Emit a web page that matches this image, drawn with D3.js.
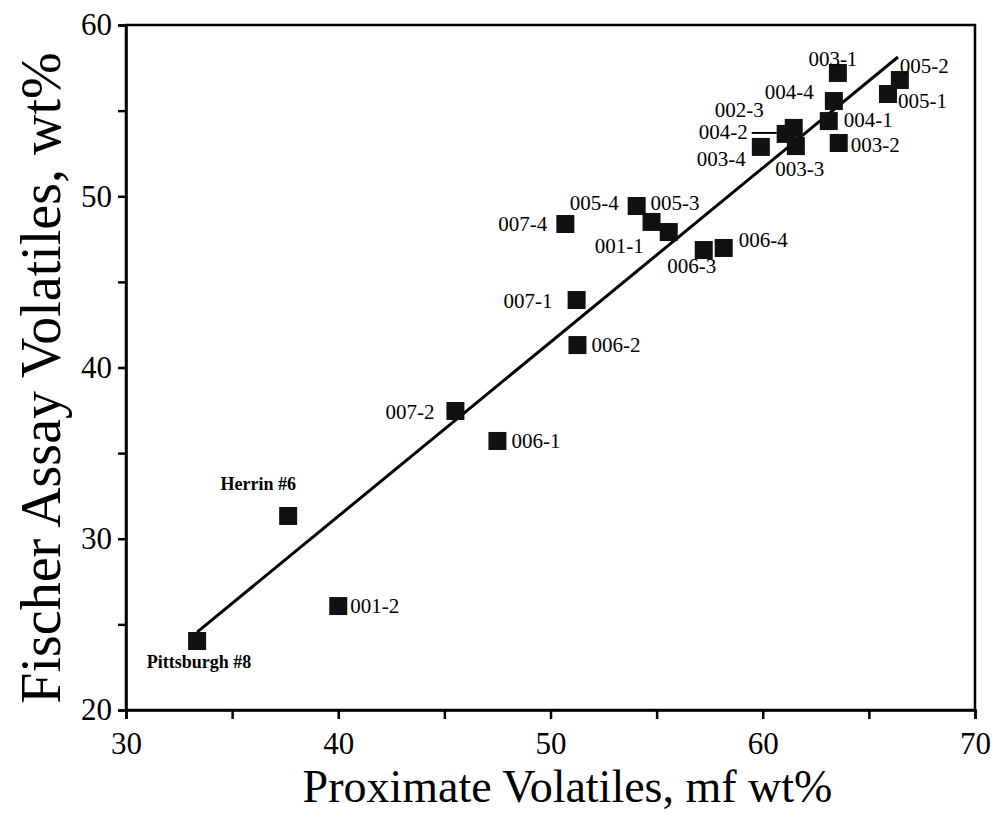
<!DOCTYPE html>
<html>
<head>
<meta charset="utf-8">
<script src="https://cdn.jsdelivr.net/npm/d3@7"></script>
<style>
  body { margin: 0; background: #fff; }
  svg { display: block; }
  text { font-family: "Liberation Serif", "Times New Roman", serif; fill: #000; }
</style>
</head>
<body>
<script>
// data
var names = ["Pittsburgh #8", "Herrin #6", "001-2", "007-2", "006-1", "007-1", "006-2",
             "007-4", "005-4", "005-3", "001-1", "006-3", "006-4", "003-4", "004-2",
             "002-3", "003-3", "004-1", "004-4", "003-1", "003-2", "005-1", "005-2"];
var proxVol = [33.35, 37.64, 40.0, 45.52, 47.5, 51.23, 51.27,
               50.7, 54.06, 54.76, 55.57, 57.22, 58.16, 59.91, 61.08,
               61.46, 61.56, 63.11, 63.35, 63.54, 63.58, 65.9, 66.46];
var fischerVol = [24.03, 31.33, 26.07, 37.46, 35.71, 43.94, 41.31,
                  48.38, 49.43, 48.5, 47.91, 46.86, 46.98, 52.88, 53.64,
                  53.99, 52.93, 54.39, 55.56, 57.2, 53.11, 55.97, 56.79];
// fitted line end points
var fitX = [33.35, 66.37];
var fitY = [24.55, 58.13];

var xTicks = [30, 35, 40, 45, 50, 55, 60, 65, 70];
var yTicks = [20, 25, 30, 35, 40, 45, 50, 55, 60];

// label placement, px offsets from the marker centre
var labelPos = {
  "Pittsburgh #8": {dx: 2, dy: 21, a: "middle", bold: true},
  "Herrin #6": {dx: -30, dy: -32, a: "middle", bold: true},
  "001-2": {dx: 12, dy: 0, a: "start"},
  "007-2": {dx: -21, dy: 1, a: "end"},
  "006-1": {dx: 14, dy: 0, a: "start"},
  "007-1": {dx: -24, dy: 1, a: "end"},
  "006-2": {dx: 14, dy: 0, a: "start"},
  "007-4": {dx: -18, dy: 0, a: "end"},
  "005-4": {dx: -18, dy: -3, a: "end"},
  "005-3": {dx: -1, dy: -19, a: "start"},
  "001-1": {dx: -25, dy: 14, a: "end"},
  "006-3": {dx: -12, dy: 16, a: "middle"},
  "006-4": {dx: 15, dy: -8, a: "start"},
  "003-4": {dx: -15, dy: 12, a: "end"},
  "004-2": {dx: -38, dy: -2, a: "end", lead: true},
  "002-3": {dx: -30, dy: -18, a: "end"},
  "003-3": {dx: 4, dy: 23, a: "middle"},
  "004-1": {dx: 15, dy: -1, a: "start"},
  "004-4": {dx: -20, dy: -9, a: "end"},
  "003-1": {dx: -5, dy: -14, a: "middle"},
  "003-2": {dx: 12, dy: 2, a: "start"},
  "005-1": {dx: 10, dy: 7, a: "start"},
  "005-2": {dx: 0, dy: -14, a: "start"}
};

var W = 993, H = 815;
var margin = {top: 25, right: 18, bottom: 105, left: 126};

var svg = d3.select("body").append("svg")
    .attr("width", W)
    .attr("height", H);

var x = d3.scaleLinear().domain([30, 70]).range([margin.left, W - margin.right]);
var y = d3.scaleLinear().domain([20, 60]).range([H - margin.bottom, margin.top]);

var points = names.map(function(n, i) {
  return {name: n, x: proxVol[i], y: fischerVol[i]};
});

// frame
svg.append("rect")
   .attr("x", x(30)).attr("y", y(60))
   .attr("width", x(70) - x(30)).attr("height", y(20) - y(60))
   .attr("fill", "none").attr("stroke", "#000").attr("stroke-width", 2.5);

var axis_x = d3.axisBottom(x).tickValues(xTicks).tickSize(9).tickPadding(6)
    .tickFormat(function(d) { return d % 10 == 0 ? d : ""; });
var axis_y = d3.axisLeft(y).tickValues(yTicks).tickSize(8).tickPadding(6)
    .tickFormat(function(d) { return d % 10 == 0 ? d : ""; });

var gx = svg.append("g")
   .attr("transform", "translate(0," + y(20) + ")")
   .call(axis_x);
var gy = svg.append("g")
   .attr("transform", "translate(" + x(30) + ",0)")
   .call(axis_y);

[gx, gy].forEach(function(g) {
  g.select(".domain").attr("stroke-width", 2.5);
  g.selectAll(".tick line").attr("stroke-width", 2.5);
  g.selectAll(".tick text")
   .style("font-family", '"Liberation Serif", serif')
   .style("font-size", "31px")
   .attr("fill", "#000");
});
gx.selectAll(".tick text").attr("dy", "0.95em");

// axis titles
svg.append("text")
   .attr("x", (x(30) + x(70)) / 2 + 17)
   .attr("y", 802)
   .attr("text-anchor", "middle")
   .style("font-size", "46px")
   .text("Proximate Volatiles, mf wt%");

svg.append("text")
   .attr("transform", "translate(60," + 378 + ") rotate(-90)")
   .attr("text-anchor", "middle")
   .style("font-size", "56px")
   .text("Fischer Assay Volatiles, wt%");

// fitted line
svg.append("line")
   .attr("x1", x(fitX[0])).attr("y1", y(fitY[0]))
   .attr("x2", x(fitX[1])).attr("y2", y(fitY[1]))
   .attr("stroke", "#000").attr("stroke-width", 3);

// marks
var sq = 18;
svg.append("g")
   .selectAll("rect")
   .data(points)
   .enter()
   .append("rect")
   .attr("x", d => x(d.x) - sq / 2)
   .attr("y", d => y(d.y) - sq / 2)
   .attr("width", sq)
   .attr("height", sq)
   .attr("fill", "#111");

// labels
var lab = svg.append("g");
points.forEach(function(d) {
  var p = labelPos[d.name];
  lab.append("text")
     .attr("x", x(d.x) + p.dx)
     .attr("y", y(d.y) + p.dy)
     .attr("dy", "0.35em")
     .attr("text-anchor", p.a)
     .style("font-size", p.bold ? "18px" : "21px")
     .style("font-weight", p.bold ? "bold" : "normal")
     .text(d.name);
  if (p.lead) {
    lab.append("line")
       .attr("x1", x(d.x) + p.dx + 4).attr("y1", y(d.y) + p.dy + 1)
       .attr("x2", x(d.x) - sq / 2).attr("y2", y(d.y) + p.dy + 1)
       .attr("stroke", "#000").attr("stroke-width", 2);
  }
});
</script>
</body>
</html>
